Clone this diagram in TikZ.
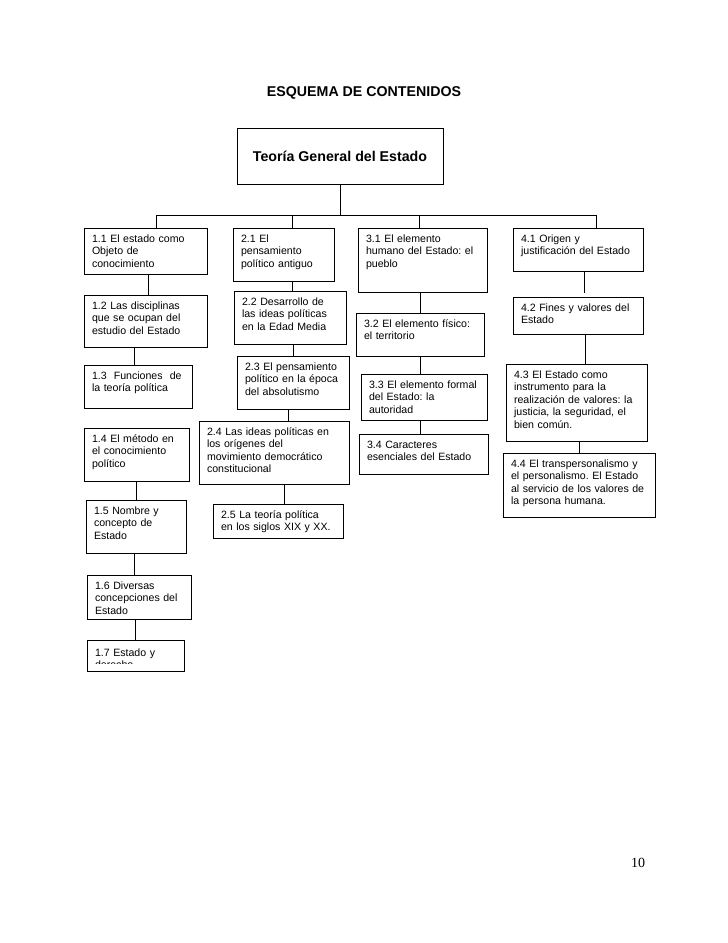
\documentclass[tikz,border=0pt]{standalone}
\usepackage{fontspec}
\setmainfont{Liberation Sans}
\newfontfamily\numfont{Liberation Serif}
\usetikzlibrary{positioning, calc}
\frenchspacing

\begin{document}
\begin{tikzpicture}[x=1pt, y=-1pt,
  tema/.style={rectangle,draw,line width=0.8pt,anchor=north west,align=left,inner xsep=8pt,inner ysep=0pt,outer sep=0pt,text height=14.5pt,font=\fontsize{10.6}{12.4}\selectfont},
  raiz/.style={rectangle,draw,line width=0.8pt,minimum width=206pt,minimum height=56pt,outer sep=0pt,font=\fontsize{14.2}{17}\selectfont\bfseries},
  link/.style={line width=0.8pt}
]
  \useasboundingbox (0,0) rectangle (728,943);
  \node[font=\fontsize{14.2}{17}\selectfont\bfseries](tit) at (364,93) {ESQUEMA DE CONTENIDOS};
  \node[raiz](teo) at (340,156) {Teoría General del Estado};

  \node[tema, text width=107pt, text depth=31.5pt](t11) at (84,228) {1.1 El estado como\\Objeto de\\conocimiento};
  \node[tema, text width=107pt, text depth=37.5pt](t12) at (84,295) {1.2 Las disciplinas\\que se ocupan del\\estudio del Estado};
  \node[tema, text width=92pt, text depth=28.5pt](t13) at (84,365) {1.3\ \ Funciones\ \ de\\la teoría política};
  \node[tema, text width=89pt, text depth=38.5pt](t14) at (84,428) {1.4 El método en\\el conocimiento\\político};
  \node[tema, text width=84pt, text depth=38.5pt](t15) at (86,500) {1.5 Nombre y\\concepto de\\Estado};
  \node[tema, text width=88pt, text depth=29.5pt](t16) at (87,575) {1.6 Diversas\\concepciones del\\Estado};
  \node[tema, text width=81pt, text depth=16.5pt](t17) at (87,640) {};
  \begin{scope}
    \clip (t17.north west) rectangle ([yshift=8pt]t17.south east);
    \node[tema, draw=none, text width=81pt, text height=16.5pt](t17txt) at (87,640) {1.7 Estado y\\derecho};
  \end{scope}

  \node[tema, text width=85pt, text depth=38.5pt](t21) at (233,228) {2.1 El\\pensamiento\\político antiguo};
  \node[tema, text width=96pt, text depth=38.5pt](t22) at (234,291) {2.2 Desarrollo de\\las ideas políticas\\en la Edad Media};
  \node[tema, text width=96pt, text depth=38.5pt](t23) at (237,356) {2.3 El pensamiento\\político en la época\\del absolutismo};
  \node[tema, text width=134pt, text depth=48.5pt](t24) at (199,421) {2.4 Las ideas políticas en\\los orígenes del\\movimiento democrático\\constitucional};
  \node[tema, text width=114pt, text depth=19.5pt](t25) at (213,504) {2.5 La teoría política\\en los siglos XIX y XX.};

  \node[tema, text width=113pt, text depth=49.5pt](t31) at (358,228) {3.1 El elemento\\humano del Estado: el\\pueblo};
  \node[tema, text width=112pt, text depth=28.5pt](t32) at (356,313) {3.2 El elemento físico:\\el territorio};
  \node[tema, text width=110pt, text depth=31.5pt](t33) at (361,374) {3.3 El elemento formal\\del Estado: la\\autoridad};
  \node[tema, text width=113pt, text depth=25.5pt](t34) at (359,434) {3.4 Caracteres\\esenciales del Estado};

  \node[tema, text width=114pt, text depth=28.5pt](t41) at (513,228) {4.1 Origen y\\justificación del Estado};
  \node[tema, text width=114pt, text depth=22.5pt](t42) at (513,297) {4.2 Fines y valores del\\Estado};
  \node[tema, text width=125pt, text depth=62.5pt](t43) at (506,364) {4.3 El Estado como\\instrumento para la\\realización de valores: la\\justicia, la seguridad, el\\bien común.};
  \node[tema, text width=136pt, text depth=49.5pt](t44) at (503,453) {4.4 El transpersonalismo y\\el personalismo. El Estado\\al servicio de los valores de\\la persona humana.};

  \node[font=\numfont\fontsize{14}{17}\selectfont](pag) at (638,863) {10};

  \coordinate (b1) at (156,215);
  \coordinate (b2) at (292,215);
  \coordinate (b3) at (419,215);
  \coordinate (b4) at (596,215);
  \draw[link](teo.south) -- (teo.south |- b1);
  \draw[link](b1) -- (b4);
  \draw[link](b1) -- (b1 |- t11.north);
  \draw[link](b2) -- (b2 |- t21.north);
  \draw[link](b3) -- (b3 |- t31.north);
  \draw[link](b4) -- (b4 |- t41.north);

  \draw[link]([xshift=2.5pt]t11.south) -- ([xshift=2.5pt]t11.south |- t12.north);
  \draw[link]([xshift=-4pt]t13.north) -- ([xshift=-4pt]t13.north |- t12.south);
  \draw[link](t15.north) -- (t15.north |- t14.south);
  \draw[link]([xshift=-5pt]t16.north) -- ([xshift=-5pt]t16.north |- t15.south);
  \draw[link](t17.north) -- (t17.north |- t16.south);

  \draw[link]([xshift=2pt]t22.north) -- ([xshift=2pt]t22.north |- t21.south);
  \draw[link](t23.north) -- (t23.north |- t22.south);
  \draw[link]([xshift=-5pt]t23.south) -- ([xshift=-5pt]t23.south |- t24.north);
  \draw[link]([xshift=6pt]t25.north) -- ([xshift=6pt]t25.north |- t24.south);

  \draw[link](t32.north) -- (t32.north |- t31.south);
  \draw[link](t32.south) -- (t32.south |- t33.north);
  \draw[link]([xshift=-3pt]t34.north) -- ([xshift=-3pt]t34.north |- t33.south);

  \draw[link, shorten >=4pt]([xshift=6pt]t41.south) -- ([xshift=6pt]t41.south |- t42.north);
  \draw[link]([xshift=7pt]t42.south) -- ([xshift=7pt]t42.south |- t43.north);
  \draw[link](t44.north) -- (t44.north |- t43.south);
\end{tikzpicture}
\end{document}
